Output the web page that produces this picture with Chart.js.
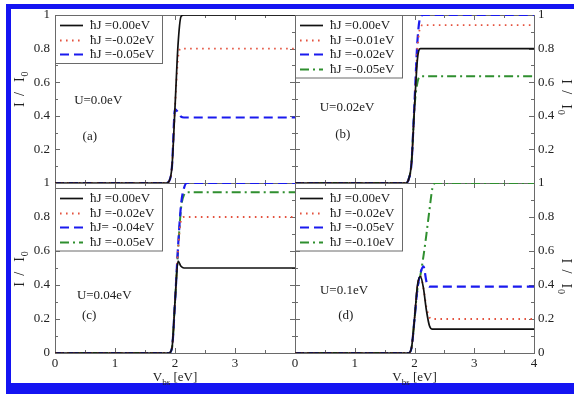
<!DOCTYPE html>
<html>
<head>
<meta charset="utf-8">
<script src="https://cdn.jsdelivr.net/npm/chart.js@4.4.1/dist/chart.umd.min.js"></script>
<style>
  html, body { margin: 0; padding: 0; background: #fff; overflow: hidden; }
  #wrap { position: relative; width: 574px; height: 394px; overflow: hidden; }
  #frame { position: absolute; left: 6px; top: 4px; width: 620px; height: 374px;
           border-left: 5px solid #1414f2; border-top: 5px solid #1414f2; border-bottom: 11px solid #1414f2; }
  canvas { position: absolute; left: 0; top: 0; }
</style>
</head>
<body>
<div id="wrap">
  <div id="frame"></div>
  <canvas id="pa" width="574" height="394"></canvas>
  <canvas id="pb" width="574" height="394"></canvas>
  <canvas id="pc" width="574" height="394"></canvas>
  <canvas id="pd" width="574" height="394"></canvas>
</div>
<script>
const FONT = "'Liberation Serif', 'Times New Roman', serif";

// bias voltage grid V_bs (eV), shared by all curves
const V = [0, 1.85, 1.9, 1.95, 2.0, 2.05, 2.1, 2.15, 2.2, 2.25, 2.3, 2.35, 2.4, 4];

// (a) U = 0.0 eV
const labelsA = ["ħJ =0.00eV", "ħJ =-0.02eV", "ħJ =-0.05eV"];
const a_J000 = [0, 0, 0.01, 0.1, 0.45, 0.82, 0.99, 1, 1, 1, 1, 1, 1, 1];
const a_J002 = [0, 0, 0.01, 0.1, 0.45, 0.74, 0.8, 0.8, 0.8, 0.8, 0.8, 0.8, 0.8, 0.8];
const a_J005 = [0, 0, 0.01, 0.1, 0.44, 0.42, 0.395, 0.39, 0.39, 0.39, 0.39, 0.39, 0.39, 0.39];

// (b) U = 0.02 eV
const labelsB = ["ħJ =0.00eV", "ħJ =-0.01eV", "ħJ =-0.02eV", "ħJ =-0.05eV"];
const b_J000 = [0, 0, 0.02, 0.12, 0.45, 0.74, 0.8, 0.8, 0.8, 0.8, 0.8, 0.8, 0.8, 0.8];
const b_J001 = [0, 0, 0.02, 0.12, 0.45, 0.8, 0.93, 0.94, 0.94, 0.94, 0.94, 0.94, 0.94, 0.94];
const b_J002 = [0, 0, 0.02, 0.12, 0.48, 0.85, 0.99, 1, 1, 1, 1, 1, 1, 1];
const b_J005 = [0, 0, 0.02, 0.12, 0.45, 0.6, 0.635, 0.635, 0.635, 0.635, 0.635, 0.635, 0.635, 0.635];

// (c) U = 0.04 eV
const labelsC = ["ħJ =0.00eV", "ħJ =-0.02eV", "ħJ= -0.04eV", "ħJ =-0.05eV"];
const c_J000 = [0, 0, 0, 0.03, 0.3, 0.54, 0.51, 0.5, 0.5, 0.5, 0.5, 0.5, 0.5, 0.5];
const c_J002 = [0, 0, 0, 0.03, 0.3, 0.6, 0.78, 0.8, 0.8, 0.8, 0.8, 0.8, 0.8, 0.8];
const c_J004 = [0, 0, 0, 0.03, 0.3, 0.62, 0.87, 0.97, 1, 1, 1, 1, 1, 1];
const c_J005 = [0, 0, 0, 0.03, 0.3, 0.6, 0.85, 0.93, 0.945, 0.945, 0.945, 0.945, 0.945, 0.945];

// (d) U = 0.1 eV
const labelsD = ["ħJ =0.00eV", "ħJ =-0.02eV", "ħJ =-0.05eV", "ħJ =-0.10eV"];
const d_J000 = [0, 0, 0, 0.03, 0.2, 0.4, 0.45, 0.38, 0.25, 0.16, 0.14, 0.14, 0.14, 0.14];
const d_J002 = [0, 0, 0, 0.03, 0.2, 0.4, 0.45, 0.38, 0.27, 0.21, 0.2, 0.2, 0.2, 0.2];
const d_J005 = [0, 0, 0, 0.03, 0.2, 0.38, 0.47, 0.51, 0.42, 0.39, 0.39, 0.39, 0.39, 0.39];
const d_J010 = [0, 0, 0, 0.03, 0.2, 0.38, 0.46, 0.57, 0.7, 0.84, 0.97, 1, 1, 1];

// panel notes: text, position in data units (V, I/I0)
const notesA = [["U=0.0eV", 0.72, 0.49], ["(a)", 0.58, 0.274]];
const notesB = [["U=0.02eV", 0.87, 0.446], ["(b)", 0.8, 0.286]];
const notesC = [["U=0.04eV", 0.82, 0.34], ["(c)", 0.57, 0.22]];
const notesD = [["U=0.1eV", 0.82, 0.37], ["(d)", 0.85, 0.22]];

// line styles
const SOLID   = { color: "#111111", dash: [], width: 1.7 };
const DOTTED  = { color: "#e4533f", dash: [1.6, 4.4], width: 1.8 };
const DASHED  = { color: "#1a1aee", dash: [9, 5], width: 2.2 };
const DASHDOT = { color: "#2f8f2f", dash: [9, 4, 2, 4], width: 2 };

function series(label, ys, st) {
  return {
    label,
    data: V.map((x, i) => ({ x, y: ys[i] })),
    borderColor: st.color,
    borderDash: st.dash,
    borderWidth: st.width,
    pointRadius: 0,
    fill: false,
    cubicInterpolationMode: "monotone"
  };
}

// ---------------------------
// box, inward ticks, legend, notes, axis titles
// ---------------------------

function drawITitle(ctx, cx, cy, rot) {
  ctx.save();
  ctx.translate(cx, cy);
  ctx.rotate(rot);
  ctx.fillStyle = "#222";
  ctx.textAlign = "left";
  ctx.textBaseline = "alphabetic";
  const x0 = -18;
  ctx.font = `14px ${FONT}`;
  ctx.fillText("I", x0, 5);
  ctx.fillText("/", x0 + 11, 5);
  ctx.fillText("I", x0 + 25, 5);
  ctx.font = `10px ${FONT}`;
  ctx.fillText("0", x0 + 30.5, 9);
  ctx.restore();
}

function drawVTitle(ctx, cx, base) {
  ctx.save();
  ctx.fillStyle = "#222";
  ctx.textAlign = "left";
  ctx.textBaseline = "alphabetic";
  ctx.font = `13px ${FONT}`;
  const w1 = ctx.measureText("V").width;
  const w3 = ctx.measureText(" [eV]").width;
  ctx.font = `9px ${FONT}`;
  const w2 = ctx.measureText("bs").width;
  let x0 = cx - (w1 + w2 + w3) / 2;
  ctx.font = `13px ${FONT}`;
  ctx.fillText("V", x0, base);
  ctx.font = `9px ${FONT}`;
  ctx.fillText("bs", x0 + w1, base + 4);
  ctx.font = `13px ${FONT}`;
  ctx.fillText(" [eV]", x0 + w1 + w2, base);
  ctx.restore();
}

const framePlugin = {
  id: "frame",
  beforeDatasetsDraw(chart) {
    const { ctx, chartArea: ca, scales: { x, y } } = chart;
    ctx.save();
    ctx.strokeStyle = "#6a6a6a";
    ctx.lineWidth = 1;
    ctx.strokeRect(ca.left + 0.5, ca.top + 0.5, ca.width, ca.height);
    ctx.beginPath();
    for (let i = 0; i <= 8; i++) {
      const px = Math.round(x.getPixelForValue(i / 2)) + 0.5;
      const len = i % 2 ? 3 : 5;
      ctx.moveTo(px, ca.bottom); ctx.lineTo(px, ca.bottom - len);
      ctx.moveTo(px, ca.top); ctx.lineTo(px, ca.top + len);
    }
    for (let i = 0; i <= 10; i++) {
      const py = Math.round(y.getPixelForValue(i / 10)) + 0.5;
      const len = i % 2 ? 3 : 5;
      ctx.moveTo(ca.left, py); ctx.lineTo(ca.left + len, py);
      ctx.moveTo(ca.right, py); ctx.lineTo(ca.right - len, py);
    }
    ctx.stroke();
    ctx.restore();
  },
  afterDatasetsDraw(chart, args, o) {
    const { ctx, chartArea: ca, scales: { x, y } } = chart;
    ctx.save();

    // legend box
    const sets = chart.data.datasets;
    const bx = ca.left, by = ca.top + o.legendOffY, bw = 107;
    const bh = 19 + (sets.length - 1) * 14.5;
    ctx.fillStyle = "#fff";
    ctx.fillRect(bx, by, bw, bh);
    ctx.strokeStyle = "#6a6a6a";
    ctx.lineWidth = 1;
    ctx.strokeRect(bx + 0.5, by + 0.5, bw, bh);
    sets.forEach((ds, i) => {
      const ry = Math.round(by + 10 + i * 14.5) + 0.5;
      ctx.setLineDash(ds.borderDash);
      ctx.strokeStyle = ds.borderColor;
      ctx.lineWidth = ds.borderWidth;
      ctx.beginPath();
      ctx.moveTo(bx + 5, ry);
      ctx.lineTo(bx + 28, ry);
      ctx.stroke();
      ctx.setLineDash([]);
      ctx.fillStyle = "#222";
      ctx.font = `13px ${FONT}`;
      ctx.textAlign = "left";
      ctx.textBaseline = "middle";
      ctx.fillText(ds.label, bx + 35, ry);
    });

    // notes
    ctx.fillStyle = "#222";
    ctx.font = `13px ${FONT}`;
    ctx.textAlign = "center";
    ctx.textBaseline = "middle";
    o.notes.forEach(([t, vx, vy]) => {
      ctx.fillText(t, x.getPixelForValue(vx), y.getPixelForValue(vy));
    });
    ctx.restore();

    // axis titles
    const cy = y.getPixelForValue(o.yTitleAt);
    if (o.yTitle === "left") drawITitle(ctx, 19, cy, -Math.PI / 2);
    if (o.yTitle === "right") drawITitle(ctx, 567, cy, Math.PI / 2);
    if (o.xTitle) drawVTitle(ctx, x.getPixelForValue(2), 381);
  }
};

// ---------------------------
// panels
// ---------------------------

function fmt(v) {
  return String(Math.round(v * 10) / 10);
}

function panel(id, p) {
  return new Chart(document.getElementById(id), {
    type: "line",
    data: { datasets: p.datasets },
    options: {
      responsive: false,
      animation: false,
      events: [],
      layout: { padding: p.padding },
      plugins: {
        legend: { display: false },
        tooltip: { enabled: false },
        frame: p.frame
      },
      scales: {
        x: {
          type: "linear", min: 0, max: 4,
          grid: { display: false, drawTicks: false },
          border: { display: false },
          ticks: {
            display: p.xLabels, stepSize: 1, padding: 3, maxRotation: 0,
            color: "#222", font: { family: FONT, size: 13 },
            callback: v => (p.xHide4 && v === 4) ? "" : fmt(v)
          },
          afterFit: s => { s.height = p.xLabels ? 20 : 0; }
        },
        y: {
          type: "linear", min: 0, max: 1, position: p.yPos,
          grid: { display: false, drawTicks: false },
          border: { display: false },
          ticks: {
            stepSize: 0.2, padding: p.yPos === "left" ? 5 : 4,
            color: "#222", font: { family: FONT, size: 13 },
            callback: v => (p.yHide0 && v === 0) ? "" : fmt(v)
          },
          afterFit: s => { s.width = 40; }
        }
      }
    },
    plugins: [framePlugin]
  });
}

panel("pa", {
  datasets: [
    series(labelsA[0], a_J000, SOLID),
    series(labelsA[1], a_J002, DOTTED),
    series(labelsA[2], a_J005, DASHED)
  ],
  padding: { left: 15, top: 15, right: 279, bottom: 211 },
  yPos: "left", yHide0: true, xLabels: false,
  frame: { legendOffY: 0, notes: notesA, yTitle: "left", yTitleAt: 0.56, xTitle: false }
});

panel("pb", {
  datasets: [
    series(labelsB[0], b_J000, SOLID),
    series(labelsB[1], b_J001, DOTTED),
    series(labelsB[2], b_J002, DASHED),
    series(labelsB[3], b_J005, DASHDOT)
  ],
  padding: { left: 295, top: 15, right: 0, bottom: 211 },
  yPos: "right", yHide0: true, xLabels: false,
  frame: { legendOffY: 0, notes: notesB, yTitle: "right", yTitleAt: 0.51, xTitle: false }
});

panel("pc", {
  datasets: [
    series(labelsC[0], c_J000, SOLID),
    series(labelsC[1], c_J002, DOTTED),
    series(labelsC[2], c_J004, DASHED),
    series(labelsC[3], c_J005, DASHDOT)
  ],
  padding: { left: 15, top: 183, right: 279, bottom: 21 },
  yPos: "left", yHide0: false, xLabels: true, xHide4: true,
  frame: { legendOffY: 5, notes: notesC, yTitle: "left", yTitleAt: 0.495, xTitle: true }
});

panel("pd", {
  datasets: [
    series(labelsD[0], d_J000, SOLID),
    series(labelsD[1], d_J002, DOTTED),
    series(labelsD[2], d_J005, DASHED),
    series(labelsD[3], d_J010, DASHDOT)
  ],
  padding: { left: 295, top: 183, right: 0, bottom: 21 },
  yPos: "right", yHide0: false, xLabels: true,
  frame: { legendOffY: 5, notes: notesD, yTitle: "right", yTitleAt: 0.45, xTitle: true }
});
</script>
</body>
</html>
